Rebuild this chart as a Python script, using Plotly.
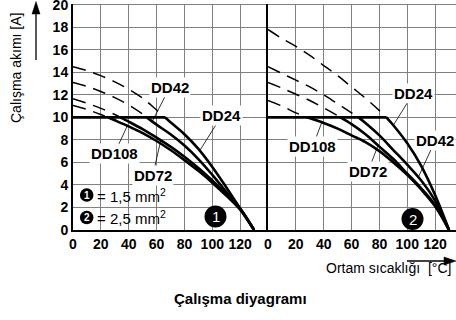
import plotly.graph_objects as go

# ---------------- data ----------------
# Panel 1: 1,5 mm2 ; Panel 2: 2,5 mm2   (temperature °C, current A)
p1_dd24_t = [0, 10, 20, 30, 40, 50, 60, 66, 70, 80, 90, 100, 110, 120, 130]
p1_dd24_i = [14.5, 14.15, 13.7, 13.15, 12.5, 11.7, 10.65, 10.0, 9.57, 8.5, 7.2, 5.6, 3.8, 1.9, 0]
p1_dd42_t = [0, 10, 20, 30, 40, 50, 53, 60, 70, 80, 90, 100, 110, 120, 130]
p1_dd42_i = [13.1, 12.75, 12.3, 11.75, 11.1, 10.3, 10.0, 9.35, 8.5, 7.5, 6.3, 4.9, 3.4, 1.9, 0]
p1_dd72_t = [0, 10, 20, 30, 34, 40, 50, 60, 70, 80, 90, 100, 110, 120, 130]
p1_dd72_i = [11.65, 11.25, 10.8, 10.25, 10.0, 9.62, 8.95, 8.2, 7.4, 6.5, 5.5, 4.4, 3.2, 1.9, 0]
p1_dd108_t = [0, 10, 20, 25, 30, 40, 50, 60, 70, 80, 90, 100, 110, 120, 130]
p1_dd108_i = [11.05, 10.7, 10.25, 10.0, 9.74, 9.2, 8.6, 7.9, 7.1, 6.2, 5.25, 4.2, 3.05, 1.8, 0]

p2_dd24_t = [0, 10, 20, 30, 40, 50, 60, 70, 80, 85, 90, 100, 110, 120, 130]
p2_dd24_i = [17.8, 17.0, 16.3, 15.5, 14.6, 13.7, 12.7, 11.7, 10.6, 10.0, 9.3, 7.7, 5.7, 3.1, 0]
p2_dd42_t = [0, 10, 20, 30, 40, 50, 60, 65, 70, 80, 90, 100, 110, 120, 130]
p2_dd42_i = [14.5, 13.9, 13.3, 12.7, 12.0, 11.2, 10.4, 10.0, 9.5, 8.4, 7.1, 5.8, 4.4, 2.6, 0]
p2_dd72_t = [0, 10, 20, 30, 40, 50, 52, 60, 70, 80, 90, 100, 110, 120, 130]
p2_dd72_i = [13.1, 12.6, 12.05, 11.5, 10.85, 10.15, 10.0, 9.4, 8.5, 7.4, 6.3, 5.0, 3.7, 2.2, 0]
p2_dd108_t = [0, 10, 20, 28, 40, 50, 60, 70, 80, 90, 100, 110, 120, 130]
p2_dd108_i = [11.5, 11.0, 10.4, 10.0, 9.5, 9.0, 8.4, 7.8, 7.0, 6.0, 4.9, 3.6, 2.1, 0]

cap_current = 10          # horizontal limit line (A)
x_ticks = [0, 20, 40, 60, 80, 100, 120]
y_ticks = [0, 2, 4, 6, 8, 10, 12, 14, 16, 18, 20]

panel1 = [(p1_dd24_t, p1_dd24_i), (p1_dd42_t, p1_dd42_i),
          (p1_dd72_t, p1_dd72_i), (p1_dd108_t, p1_dd108_i)]
panel2 = [(p2_dd24_t, p2_dd24_i), (p2_dd42_t, p2_dd42_i),
          (p2_dd72_t, p2_dd72_i), (p2_dd108_t, p2_dd108_i)]

FONT = "Liberation Sans, Arial, Helvetica, sans-serif"
W, H = 456, 320

def px(x):
    return x / W

def py(y):
    return 1 - y / H

fig = go.Figure()

def add_panel(curves, xa, ya):
    for t, i in curves:
        dt = [a for a, b in zip(t, i) if b >= cap_current]
        di = [b for b in i if b >= cap_current]
        st = [a for a, b in zip(t, i) if b <= cap_current]
        si = [b for b in i if b <= cap_current]
        fig.add_trace(go.Scatter(x=dt, y=di, mode="lines", xaxis=xa, yaxis=ya,
                                 line=dict(color="black", width=1.5, dash="13px,8px", shape="spline"),
                                 hoverinfo="skip", showlegend=False))
        fig.add_trace(go.Scatter(x=st, y=si, mode="lines", xaxis=xa, yaxis=ya,
                                 line=dict(color="black", width=2.6, shape="spline"),
                                 hoverinfo="skip", showlegend=False))
    # cap line from 0 to crossing of the top curve
    t0, i0 = curves[0]
    cross = [a for a, b in zip(t0, i0) if b == cap_current][0]
    fig.add_trace(go.Scatter(x=[0, cross], y=[cap_current, cap_current], mode="lines",
                             xaxis=xa, yaxis=ya, line=dict(color="black", width=2.6),
                             hoverinfo="skip", showlegend=False))

add_panel(panel1, "x", "y")
add_panel(panel2, "x2", "y2")

grid = "#808080"
tickfont = dict(family=FONT, size=14, color="black", weight="bold")
y_top = 20.1
ydom = [(H - 230) / H, (H - (230 - y_top * 11.265)) / H]
common_x = dict(tickvals=x_ticks, ticktext=[str(v) for v in x_ticks], showgrid=True,
                gridcolor=grid, gridwidth=1.4, showline=True, linecolor="black",
                linewidth=2, zeroline=False, tickfont=tickfont, ticks="", fixedrange=True,
                automargin=False, ticklabeloverflow="allow")
common_y = dict(range=[0, y_top], tickvals=y_ticks, showgrid=True, gridcolor=grid,
                gridwidth=1.4, showline=True, linecolor="black", linewidth=2,
                zeroline=False, tickfont=tickfont, ticks="", domain=ydom, fixedrange=True,
                automargin=False, ticklabeloverflow="allow")

fig.update_layout(
    width=W, height=H, margin=dict(l=0, r=0, t=0, b=0, pad=0, autoexpand=False),
    paper_bgcolor="white", plot_bgcolor="white", showlegend=False,
    xaxis=dict(domain=[73 / W, 268 / W], range=[0, 140], anchor="y", **common_x),
    yaxis=dict(anchor="x", **common_y),
    xaxis2=dict(domain=[268 / W, 1], range=[0, 135], anchor="y2", **common_x),
    yaxis2=dict(anchor="x2", showticklabels=False,
                **{k: v for k, v in common_y.items() if k != "tickfont"}),
)

shapes = []
# legend white box
shapes.append(dict(type="rect", xref="paper", yref="paper", x0=px(77), x1=px(177),
                   y0=py(228), y1=py(186), fillcolor="white", line=dict(width=0),
                   layer="between"))
# badges
for cx, cy, r in [(215.5, 216.5, 11), (412.5, 219, 11), (86.7, 195, 6.8), (86.7, 217.5, 6.8)]:
    shapes.append(dict(type="circle", xref="paper", yref="paper", x0=px(cx - r), x1=px(cx + r),
                       y0=py(cy + r), y1=py(cy - r), fillcolor="black", line=dict(width=0),
                       layer="above"))

# axis direction arrows (shaft + filled head)
def pth(points):
    return "M " + " L ".join(f"{px(a):.5f},{py(b):.5f}" for a, b in points) + " Z"

shapes.append(dict(type="line", xref="paper", yref="paper", x0=px(36), x1=px(36),
                   y0=py(60), y1=py(12), line=dict(color="black", width=1.3)))
shapes.append(dict(type="path", xref="paper", yref="paper",
                   path=pth([(32, 14), (36, 1.5), (40, 14)]), fillcolor="black",
                   line=dict(color="black", width=0.5)))
shapes.append(dict(type="line", xref="paper", yref="paper", x0=px(407), x1=px(446),
                   y0=py(261), y1=py(261), line=dict(color="black", width=1.3)))
shapes.append(dict(type="path", xref="paper", yref="paper",
                   path=pth([(444, 257), (456, 261), (444, 265)]), fillcolor="black",
                   line=dict(color="black", width=0.5)))
fig.update_layout(shapes=shapes)

ann = []
lab_font = dict(family=FONT, size=15, color="black", weight="bold")

def label(text, xr, yr, t, i, ax, ay):
    ann.append(dict(text=text, x=t, y=i, xref=xr, yref=yr, ax=ax, ay=ay, showarrow=True,
                    arrowhead=0, arrowwidth=0.8, arrowcolor="black", bgcolor="white",
                    borderpad=1, font=lab_font))

label("DD42", "x", "y", 56.5, 9.55, 18, -35)
label("DD24", "x", "y", 91, 7.05, 22, -35)
label("DD108", "x", "y", 39, 9.25, -13, 28)
label("DD72", "x", "y", 63, 7.95, -8, 35)
label("DD24", "x2", "y2", 90, 9.3, 20, -32)
label("DD42", "x2", "y2", 108, 4.7, 17, -37)
label("DD108", "x2", "y2", 38.6, 9.55, -9, 24)
label("DD72", "x2", "y2", 79, 7.5, -10, 26)

def text(t, x, y, size, color="black", weight="normal", xanchor="center", angle=0):
    ann.append(dict(text=t, x=px(x), y=py(y), xref="paper", yref="paper", showarrow=False,
                    xanchor=xanchor, yanchor="middle", textangle=angle,
                    font=dict(family=FONT, size=size, color=color, weight=weight)))

# badge numbers
text("1", 215.5, 216.5, 15, "white")
text("2", 412.5, 219, 15, "white")
text("1", 86.7, 195, 10, "white", "bold")
text("2", 86.7, 217.5, 10, "white", "bold")
text("= 1,5 mm<sup>2</sup>", 95, 195, 15, xanchor="left")
text("= 2,5 mm<sup>2</sup>", 95, 217.5, 15, xanchor="left")

# axis titles
text("Çalışma akımı [A]", 16, 68, 14, angle=-90)
text("Ortam sıcaklığı \u00a0[°C]", 453, 268, 14, xanchor="right")
text("Çalışma diyagramı", 240, 298, 15, weight="bold")
fig.update_layout(annotations=ann)

fig.write_html("out.html", config={"responsive": False, "displayModeBar": False},
               post_script="document.body.style.margin='0';document.body.style.overflow='hidden';")
